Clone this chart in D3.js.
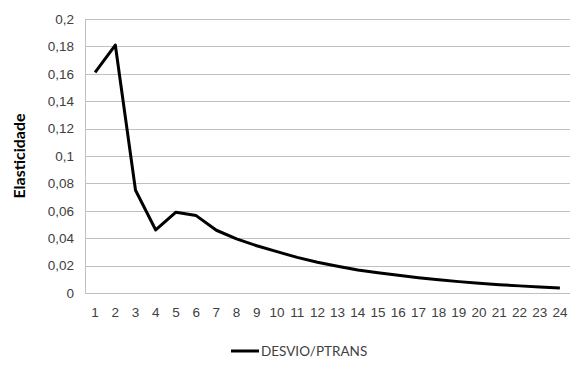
<!DOCTYPE html>
<html lang="pt">
<head>
  <meta charset="UTF-8">
  <title>Elasticidade DESVIO/PTRANS</title>
  <script src="https://d3js.org/d3.v7.min.js"></script>
  <style>
    body {
      margin: 0;
      background: #ffffff;
    }
    svg {
      font-family: Lato, "Open Sans", sans-serif;
    }
    .tick text {
      fill: #404040;
      font-size: 13.5px;
    }
  </style>
</head>
<body>
  <svg width="584" height="365"></svg>

  <script>
    // data
    const periods = d3.range(1, 25).map(String);
    const desvioPtrans = [
      0.161, 0.181, 0.075, 0.046, 0.059, 0.0565, 0.0458, 0.0395,
      0.0345, 0.0302, 0.026, 0.0225, 0.0195, 0.0168, 0.0148, 0.013,
      0.0112, 0.0097, 0.0083, 0.0071, 0.006, 0.0052, 0.0043, 0.0036
    ];
    const yTicks = [0, 0.02, 0.04, 0.06, 0.08, 0.1, 0.12, 0.14, 0.16, 0.18, 0.2];
    const seriesName = "DESVIO/PTRANS";

    const svg = d3.select("svg");
    const plotLeft = 85, plotRight = 570, plotTop = 19, plotBottom = 293;

    const x = d3.scaleBand().domain(periods).range([plotLeft, plotRight]);
    const y = d3.scaleLinear().domain([0, 0.2]).range([plotBottom, plotTop]);
    const fmt = d => String(d).replace(".", ",");

    // gridlines
    svg.append("g")
      .selectAll("line")
      .data(yTicks)
      .join("line")
      .attr("x1", plotLeft)
      .attr("x2", plotRight)
      .attr("y1", d => Math.round(y(d)) + 0.5)
      .attr("y2", d => Math.round(y(d)) + 0.5)
      .attr("stroke", "#c0c0c0")
      .attr("stroke-width", 1);

    // left axis line
    svg.append("line")
      .attr("x1", plotLeft + 0.5).attr("x2", plotLeft + 0.5)
      .attr("y1", plotTop).attr("y2", plotBottom)
      .attr("stroke", "#c0c0c0");

    // y axis labels
    const yAxis = svg.append("g")
      .attr("transform", `translate(${plotLeft},0)`)
      .call(d3.axisLeft(y).tickValues(yTicks).tickFormat(fmt).tickSize(0).tickPadding(11));
    yAxis.select(".domain").remove();

    // x axis labels
    const xAxis = svg.append("g")
      .attr("transform", `translate(0,${plotBottom})`)
      .call(d3.axisBottom(x).tickSize(0).tickPadding(14));
    xAxis.select(".domain").remove();

    // y axis title
    svg.append("text")
      .attr("transform", "translate(25,156) rotate(-90)")
      .attr("text-anchor", "middle")
      .attr("font-size", 16)
      .attr("font-weight", "bold")
      .attr("fill", "#000")
      .text("Elasticidade");

    // series line
    const line = d3.line()
      .x((d, i) => x(periods[i]) + x.bandwidth() / 2)
      .y(d => y(d));

    svg.append("path")
      .datum(desvioPtrans)
      .attr("fill", "none")
      .attr("stroke", "#000")
      .attr("stroke-width", 3)
      .attr("stroke-linejoin", "round")
      .attr("d", line);

    // legend
    const legend = svg.append("g").attr("transform", "translate(231,351)");
    legend.append("line")
      .attr("x1", 0).attr("x2", 28)
      .attr("stroke", "#000")
      .attr("stroke-width", 3);
    legend.append("text")
      .attr("x", 30)
      .attr("y", 5)
      .attr("font-size", 13.5)
      .attr("fill", "#404040")
      .text(seriesName);
  </script>
</body>
</html>
